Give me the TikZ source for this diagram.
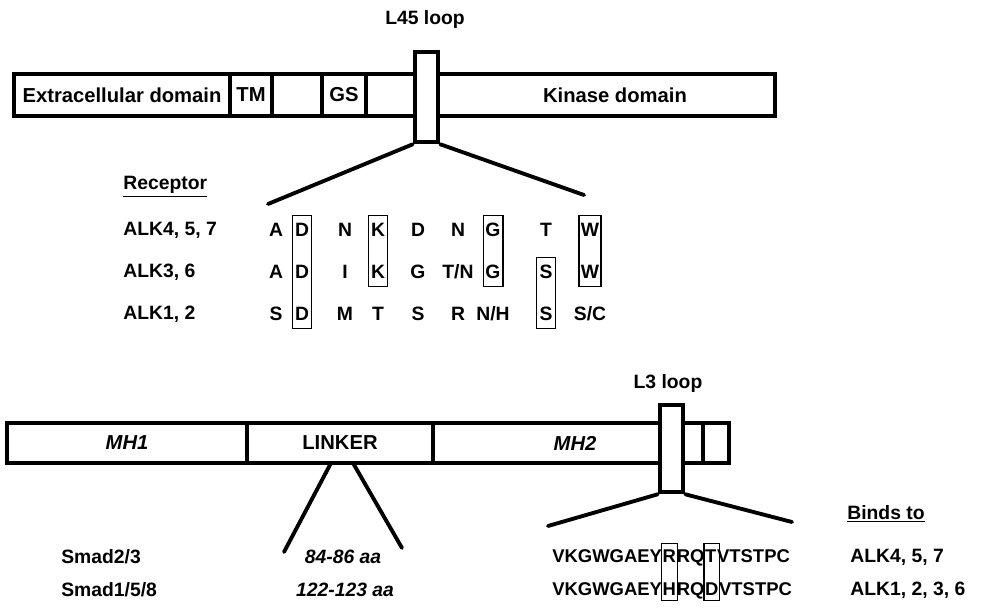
\documentclass[tikz,border=0pt]{standalone}
\usepackage{fontspec}
\setmainfont{Liberation Sans}
\usetikzlibrary{fit,positioning}

\begin{document}
\begin{tikzpicture}[x=0.02cm, y=-0.02cm]
  % Define domain box, loop box and text styles
  \tikzstyle{segbox} = [draw, line width=1.8pt, inner sep=0pt]
  \tikzstyle{loopbox} = [draw, line width=2.6pt, inner sep=0pt]
  \tikzstyle{zoomline} = [line width=2.2pt, line cap=round]
  \tikzstyle{txt} = [inner sep=0pt, font=\bfseries\fontsize{11}{13}\selectfont]
  \tikzstyle{segtxt} = [inner sep=0pt, font=\bfseries\fontsize{11.5}{13}\selectfont]
  \tikzstyle{res} = [txt, minimum width=0.3cm, minimum height=0.5cm]
  \tikzstyle{resbox} = [draw, line width=1pt, inner sep=1pt]
  \tikzstyle{seq} = [inner sep=0pt, font=\bfseries\fontsize{10.5}{12}\selectfont]
  \tikzstyle{seqbox} = [draw, line width=0.8pt, inner ysep=3pt, inner xsep=0.5pt]

  \useasboundingbox (0,0) rectangle (987,609);

  % Type I receptor
  \node[txt] (l45) at (425,20) {L45 loop};
  \node[segbox, fit={(14,74) (230,116)}] (ext) {};
  \node[segbox, fit={(230,74) (272,116)}] (tm) {};
  \node[segbox, fit={(272,74) (322,116)}] (jx) {};
  \node[segbox, fit={(322,74) (366,116)}] (gs) {};
  \node[segbox, fit={(366,74) (415,116)}] (pre) {};
  \node[segbox, fit={(438,74) (775,116)}] (kin) {};
  \node[loopbox, fit={(415,52) (438,142)}] (l45box) {};
  \node[segtxt] at (ext.center) {Extracellular domain};
  \node[segtxt] at (tm.center) {TM};
  \node[segtxt] at (gs.center) {GS};
  \node[segtxt] at (615,95) {Kinase domain};

  \coordinate (rl) at (268,204);
  \coordinate (rr) at (584,195);
  \draw[zoomline] (l45box.south west) -- (rl);
  \draw[zoomline] (l45box.south east) -- (rr);

  \node[txt, anchor=west] (rec) at (123,187) {\underline{Receptor}};
  \node[txt, anchor=west] (alka) at (123,230) {ALK4, 5, 7};
  \node[txt, anchor=west] (alkb) at (123,272) {ALK3, 6};
  \node[txt, anchor=west] (alkc) at (123,314) {ALK1, 2};

  \foreach \x [count=\c] in {276,302,345,378,418,458,493,546,590}
    \coordinate (col\c) at (\x,0);
  \foreach \t [count=\c] in {A,D,N,K,D,N,G,T,W}
    \node[res] (a\c) at (col\c |- 0,230) {\t};
  \foreach \t [count=\c] in {A,D,I,K,G,T/N,G,S,W}
    \node[res] (b\c) at (col\c |- 0,272) {\t};
  \foreach \t [count=\c] in {S,D,M,T,S,R,N/H,S,S/C}
    \node[res] (c\c) at (col\c |- 0,314) {\t};

  \node[resbox, fit=(a2)(c2)] (bxd) {};
  \node[resbox, fit=(a4)(b4)] (bxk) {};
  \node[resbox, fit=(a7)(b7)] (bxg) {};
  \node[resbox, fit=(b8)(c8)] (bxs) {};
  \node[resbox, fit=(a9)(b9)] (bxw) {};

  % Smad
  \node[txt] (l3) at (668,383) {L3 loop};
  \node[segbox, fit={(7,423) (247,463)}] (mh1) {};
  \node[segbox, fit={(247,423) (433,463)}] (linker) {};
  \node[segbox, fit={(433,423) (660,463)}] (mh2) {};
  \node[segbox, fit={(683,423) (703,463)}] (ca) {};
  \node[segbox, fit={(703,423) (729,463)}] (cb) {};
  \node[loopbox, fit={(660,405) (683,492)}] (l3box) {};
  \node[segtxt] at (mh1.center) {\itshape MH1};
  \node[segtxt] at (linker.center) {LINKER};
  \node[segtxt] at (575,443) {\itshape MH2};

  \coordinate (lk1) at (331,463);
  \coordinate (lk2) at (353,463);
  \coordinate (lk3) at (284,552);
  \coordinate (lk4) at (402,548);
  \draw[zoomline] (lk1) -- (lk3);
  \draw[zoomline] (lk2) -- (lk4);

  \coordinate (sl) at (548,526);
  \coordinate (sr) at (792,522);
  \draw[zoomline] (l3box.south west) -- (sl);
  \draw[zoomline] (l3box.south east) -- (sr);

  \node[txt, anchor=west] (sm23) at (61,557) {Smad2/3};
  \node[txt, anchor=west] (sm158) at (61,590) {Smad1/5/8};
  \node[txt] (aa1) at (343,557) {\itshape 84-86 aa};
  \node[txt] (aa2) at (345,590) {\itshape 122-123 aa};

  \node[seq, anchor=base west] (q1a) at (552,562) {VKGWGAEY};
  \node[seq, base right=0pt of q1a] (q1b) {R};
  \node[seq, base right=0pt of q1b] (q1c) {RQ};
  \node[seq, base right=0pt of q1c] (q1d) {T};
  \node[seq, base right=0pt of q1d] (q1e) {VTSTPC};
  \node[seq, anchor=base west] (q2a) at (552,595) {VKGWGAEY};
  \node[seq, base right=0pt of q2a] (q2b) {H};
  \node[seq, base right=0pt of q2b] (q2c) {RQ};
  \node[seq, base right=0pt of q2c] (q2d) {D};
  \node[seq, base right=0pt of q2d] (q2e) {VTSTPC};
  \node[seqbox, fit=(q1b)(q2b)] (bxr) {};
  \node[seqbox, fit=(q1d)(q2d)] (bxt) {};

  \node[txt, anchor=west] (binds) at (847,514) {\underline{Binds to}};
  \node[txt, anchor=west] (ba) at (850,557) {ALK4, 5, 7};
  \node[txt, anchor=west] (bb) at (850,590) {ALK1, 2, 3, 6};
\end{tikzpicture}
\end{document}
